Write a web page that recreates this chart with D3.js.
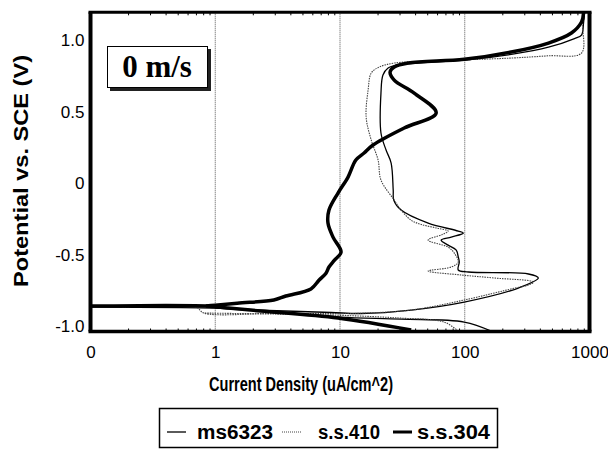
<!DOCTYPE html>
<html>
<head>
<meta charset="utf-8">
<script src="https://cdn.jsdelivr.net/npm/d3@7"></script>
<style>
  body { margin: 0; background: #fff; }
</style>
</head>
<body>
<svg id="chart" width="608" height="451"></svg>
<script>
// axis ticks
const xTickValues = [0.1, 1, 10, 100, 1000];
const xTickLabels = ["0", "1", "10", "100", "1000"];
const yTickValues = [1, 0.5, 0, -0.5, -1];
const yTickLabels = ["1.0", "0.5", "0", "-0.5", "-1.0"];
const gridValues = [1, 10, 100];
const seriesNames = ["ms6323", "s.s.410", "s.s.304"];

// [current density uA/cm^2, potential V]
const ms6323Cathodic = [[163, -1.035], [99, -0.972], [30.9, -0.951], [10, -0.937], [3.36, -0.902], [1.33, -0.881], [1.0, -0.874], [0.1, -0.867]];
const ms6323Anodic = [[1.0, -0.872], [2.32, -0.888], [8.47, -0.905], [14.8, -0.912], [37.2, -0.888], [99, -0.832], [269, -0.734], [389, -0.664], [324, -0.636], [107, -0.622], [88.7, -0.608], [90.4, -0.552], [88.7, -0.517], [85.5, -0.469], [73.6, -0.434], [64.7, -0.399], [77.9, -0.378], [97.3, -0.35], [88.7, -0.336], [50.9, -0.28], [30.9, -0.189], [27, -0.12], [26.7, -0.049], [25.7, 0.14], [23.4, 0.231], [21.3, 0.35], [21.3, 0.629], [22.1, 0.755], [24.3, 0.804], [29.2, 0.825], [53.8, 0.846], [101, 0.86], [236, 0.9], [469, 0.95], [758, 1.01], [863, 1.035], [896, 1.119], [912, 1.19]];

const ss410Cathodic = [[88.7, -1.035], [68.4, -0.972], [30, -0.944], [10, -0.925], [3, -0.916], [0.81, -0.909]];
const ss410Anodic = [[0.18, -0.867], [0.7, -0.867], [0.81, -0.909], [3, -0.911], [10, -0.913], [16.2, -0.909], [37.2, -0.888], [99, -0.818], [250, -0.735], [324, -0.713], [355, -0.692], [173, -0.664], [93.8, -0.643], [50.9, -0.615], [77.9, -0.587], [88.7, -0.552], [82.4, -0.49], [73.6, -0.448], [50.9, -0.399], [66, -0.36], [73.6, -0.336], [60, -0.315], [45, -0.29], [37.2, -0.26], [30.9, -0.189], [27.2, -0.119], [21.3, 0.021], [20.2, 0.161], [17.8, 0.3], [16.2, 0.462], [16.8, 0.65], [17.8, 0.769], [20.6, 0.811], [27.2, 0.839], [53.8, 0.853], [101, 0.862], [236, 0.874], [469, 0.89], [863, 0.909], [879, 1.105], [896, 1.19]];

const ss304Cathodic = [[37.2, -1.028], [9.64, -0.944], [2.32, -0.895], [1.26, -0.874], [0.84, -0.86], [0.1, -0.86]];
const ss304Anodic = [[0.84, -0.86], [1.0, -0.855], [1.5, -0.84], [2.95, -0.818], [3.68, -0.79], [5.85, -0.74], [6.78, -0.68], [7.72, -0.63], [8.16, -0.587], [9.0, -0.54], [10.2, -0.483], [8.79, -0.378], [8.01, -0.28], [8.16, -0.189], [9.64, -0.07], [11.6, 0.042], [13.4, 0.161], [15.6, 0.21], [18.4, 0.266], [32.7, 0.385], [59, 0.49], [39.3, 0.629], [27.2, 0.72], [25.2, 0.776], [27.2, 0.811], [35.2, 0.839], [99, 0.865], [236, 0.916], [469, 0.979], [716, 1.049], [863, 1.126], [896, 1.19]];

const SANS = "'Liberation Sans', Arial, sans-serif";
const SERIF = "'Liberation Serif', 'Times New Roman', serif";

const svg = d3.select("#chart");
const plot = { left: 90.5, right: 589.5, top: 12.3, bottom: 331.5 };

const x = d3.scaleLog().domain([0.1, 1000]).range([plot.left, plot.right]);
const y = d3.scaleLinear().domain([-1.038, 1.194]).range([plot.bottom, plot.top]);

// dotted grid
svg.append("g")
  .selectAll("line")
  .data(gridValues)
  .enter()
  .append("line")
  .attr("x1", (d) => x(d))
  .attr("x2", (d) => x(d))
  .attr("y1", plot.top)
  .attr("y2", plot.bottom)
  .attr("stroke", "#555")
  .attr("stroke-width", 1)
  .attr("stroke-dasharray", "1,1");

// minor ticks top and bottom
const minor = [];
[0.1, 1, 10, 100].forEach((dec) => {
  for (let k = 2; k <= 9; k++) minor.push(dec * k);
});
const minorAxisBottom = d3.axisBottom(x).tickValues(minor).tickSize(-3).tickFormat("");
svg.append("g")
  .attr("transform", `translate(0,${plot.bottom})`)
  .call(minorAxisBottom)
  .call((g) => g.select(".domain").remove())
  .selectAll("line").attr("stroke", "#000");
const minorAxisTop = d3.axisTop(x).tickValues(minor).tickSize(-3).tickFormat("");
svg.append("g")
  .attr("transform", `translate(0,${plot.top})`)
  .call(minorAxisTop)
  .call((g) => g.select(".domain").remove())
  .selectAll("line").attr("stroke", "#000");

// tick labels
const xAxis = d3.axisBottom(x).tickValues(xTickValues).tickSize(0).tickPadding(14)
  .tickFormat((d, i) => xTickLabels[i]);
svg.append("g")
  .attr("transform", `translate(0,${plot.bottom})`)
  .call(xAxis)
  .call((g) => g.select(".domain").remove())
  .selectAll("text")
  .style("font-size", "17px")
  .style("font-family", SANS)
  .attr("fill", "#000");

const yAxis = d3.axisLeft(y).tickValues(yTickValues).tickSize(0).tickPadding(5)
  .tickFormat((d, i) => yTickLabels[i]);
svg.append("g")
  .attr("transform", `translate(${plot.left - 1},0)`)
  .call(yAxis)
  .call((g) => g.select(".domain").remove())
  .selectAll("text")
  .style("font-size", "17px")
  .style("font-family", SANS)
  .attr("fill", "#000");

// curves
const line = d3.line()
  .x((d) => x(d[0]))
  .y((d) => y(d[1]))
  .curve(d3.curveCatmullRom.alpha(0.5));
const curves = [
  { data: ms6323Cathodic, w: 1.3, dash: null, color: "#000" },
  { data: ms6323Anodic, w: 1.3, dash: null, color: "#000" },
  { data: ss410Cathodic, w: 1.1, dash: "1.5,1", color: "#444" },
  { data: ss410Anodic, w: 1.1, dash: "1.5,1", color: "#444" },
  { data: ss304Cathodic, w: 3.5, dash: null, color: "#000" },
  { data: ss304Anodic, w: 3.5, dash: null, color: "#000" },
];
svg.append("defs").append("clipPath").attr("id", "clip")
  .append("rect")
  .attr("x", plot.left).attr("y", plot.top)
  .attr("width", plot.right - plot.left).attr("height", plot.bottom - plot.top);
svg.append("g")
  .attr("clip-path", "url(#clip)")
  .selectAll("path")
  .data(curves)
  .enter()
  .append("path")
  .attr("d", (d) => line(d.data))
  .attr("fill", "none")
  .attr("stroke", (d) => d.color)
  .attr("stroke-width", (d) => d.w)
  .attr("stroke-dasharray", (d) => d.dash)
  .attr("stroke-linejoin", "round");

// frame
svg.append("line").attr("x1", plot.left - 2).attr("x2", plot.right + 2).attr("y1", plot.top).attr("y2", plot.top)
  .attr("stroke", "#000").attr("stroke-width", 3);
svg.append("line").attr("x1", plot.left - 2).attr("x2", plot.right + 2).attr("y1", plot.bottom).attr("y2", plot.bottom)
  .attr("stroke", "#000").attr("stroke-width", 3.5);
svg.append("line").attr("x1", plot.left).attr("x2", plot.left).attr("y1", plot.top).attr("y2", plot.bottom)
  .attr("stroke", "#000").attr("stroke-width", 4);
svg.append("line").attr("x1", plot.right).attr("x2", plot.right).attr("y1", plot.top).attr("y2", plot.bottom)
  .attr("stroke", "#000").attr("stroke-width", 4);

// speed label box
svg.append("rect").attr("x", 110).attr("y", 49).attr("width", 101).attr("height", 42).attr("fill", "#222");
svg.append("rect").attr("x", 107.5).attr("y", 46.5).attr("width", 100).attr("height", 41)
  .attr("fill", "#fff").attr("stroke", "#000").attr("stroke-width", 1);
svg.append("text")
  .attr("x", 157).attr("y", 77)
  .attr("text-anchor", "middle")
  .style("font-family", SERIF)
  .style("font-weight", "bold")
  .style("font-size", "31px")
  .text("0 m/s");

// axis titles
svg.append("text")
  .attr("x", 301).attr("y", 391)
  .attr("text-anchor", "middle")
  .style("font-family", SANS)
  .style("font-weight", "bold")
  .style("font-size", "21px")
  .attr("textLength", 184)
  .attr("lengthAdjust", "spacingAndGlyphs")
  .text("Current Density (uA/cm^2)");
svg.append("text")
  .attr("transform", "translate(28,171) rotate(-90)")
  .attr("text-anchor", "middle")
  .style("font-family", SANS)
  .style("font-weight", "bold")
  .style("font-size", "21px")
  .attr("textLength", 232)
  .attr("lengthAdjust", "spacingAndGlyphs")
  .text("Potential vs. SCE (V)");

// legend
const legend = svg.append("g");
legend.append("rect").attr("x", 159.5).attr("y", 408.5).attr("width", 338).attr("height", 39)
  .attr("fill", "#fff").attr("stroke", "#000").attr("stroke-width", 1.5);
const legendItems = [
  { x1: 167, x2: 186, tx: 197, tw: 76, w: 1.3, dash: null, color: "#000" },
  { x1: 282, x2: 302, tx: 318, tw: 62, w: 1.1, dash: "1,1", color: "#444" },
  { x1: 393, x2: 412, tx: 417, tw: 73, w: 3, dash: null, color: "#000" },
];
legend.selectAll("line")
  .data(legendItems)
  .enter()
  .append("line")
  .attr("x1", (d) => d.x1).attr("x2", (d) => d.x2)
  .attr("y1", 432).attr("y2", 432)
  .attr("stroke", (d) => d.color)
  .attr("stroke-width", (d) => d.w)
  .attr("stroke-dasharray", (d) => d.dash);
legend.selectAll("text")
  .data(legendItems)
  .enter()
  .append("text")
  .attr("x", (d) => d.tx).attr("y", 439)
  .style("font-family", SANS)
  .style("font-weight", "bold")
  .style("font-size", "20px")
  .attr("textLength", (d) => d.tw)
  .attr("lengthAdjust", "spacingAndGlyphs")
  .text((d, i) => seriesNames[i]);
</script>
</body>
</html>
